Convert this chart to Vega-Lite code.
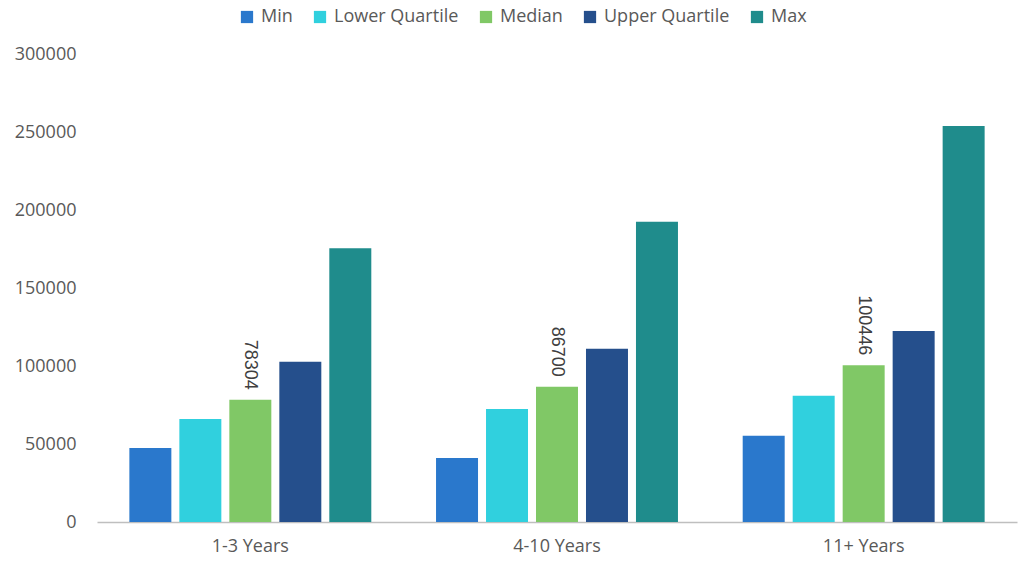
{
  "$schema": "https://vega.github.io/schema/vega-lite/v6.json",
  "width": 920,
  "height": 468,
  "autosize": {"type": "none"},
  "padding": {"left": 97, "top": 54, "right": 5, "bottom": 39},
  "background": "white",
  "config": {
    "view": {"stroke": null},
    "font": "Open Sans",
    "axis": {"labelColor": "#595959", "labelFont": "Open Sans", "title": null}
  },
  "data": {
    "values": [
      {"group": "1-3 Years", "stat": "Min", "value": 47500},
      {"group": "1-3 Years", "stat": "Lower Quartile", "value": 66000},
      {"group": "1-3 Years", "stat": "Median", "value": 78304},
      {"group": "1-3 Years", "stat": "Upper Quartile", "value": 102800},
      {"group": "1-3 Years", "stat": "Max", "value": 175500},
      {"group": "4-10 Years", "stat": "Min", "value": 41000},
      {"group": "4-10 Years", "stat": "Lower Quartile", "value": 72500},
      {"group": "4-10 Years", "stat": "Median", "value": 86700},
      {"group": "4-10 Years", "stat": "Upper Quartile", "value": 111000},
      {"group": "4-10 Years", "stat": "Max", "value": 192500},
      {"group": "11+ Years", "stat": "Min", "value": 55300},
      {"group": "11+ Years", "stat": "Lower Quartile", "value": 81000},
      {"group": "11+ Years", "stat": "Median", "value": 100446},
      {"group": "11+ Years", "stat": "Upper Quartile", "value": 122400},
      {"group": "11+ Years", "stat": "Max", "value": 253800}
    ]
  },
  "encoding": {
    "x": {
      "field": "group",
      "type": "nominal",
      "sort": ["1-3 Years", "4-10 Years", "11+ Years"],
      "scale": {"paddingInner": 0.185, "paddingOuter": 0.0925},
      "axis": {
        "labelAngle": 0,
        "labelFontSize": 18,
        "labelPadding": 15,
        "ticks": false,
        "tickSize": 0,
        "domainColor": "#bfbfbf",
        "domainWidth": 1.5
      }
    },
    "xOffset": {
      "field": "stat",
      "type": "nominal",
      "sort": ["Min", "Lower Quartile", "Median", "Upper Quartile", "Max"],
      "scale": {"paddingInner": 0.16, "paddingOuter": 0.08}
    },
    "y": {
      "field": "value",
      "type": "quantitative",
      "scale": {"domain": [0, 300000], "nice": false},
      "axis": {
        "values": [0, 50000, 100000, 150000, 200000, 250000, 300000],
        "format": "d",
        "grid": false,
        "domain": false,
        "ticks": false,
        "tickSize": 0,
        "labelPadding": 21,
        "labelFontSize": 18
      }
    }
  },
  "layer": [
    {
      "mark": {"type": "bar"},
      "encoding": {
        "color": {
          "field": "stat",
          "type": "nominal",
          "sort": ["Min", "Lower Quartile", "Median", "Upper Quartile", "Max"],
          "scale": {
            "domain": ["Min", "Lower Quartile", "Median", "Upper Quartile", "Max"],
            "range": ["#2a78cc", "#30d0de", "#80c866", "#254f8c", "#1f8c8c"]
          },
          "legend": {
            "title": null,
            "orient": "none",
            "direction": "horizontal",
            "legendX": 141,
            "legendY": -46,
            "symbolType": "square",
            "symbolSize": 150,
            "symbolStrokeWidth": 0,
            "labelFontSize": 18,
            "labelColor": "#595959",
            "labelOffset": 5,
            "columnPadding": 18
          }
        }
      }
    },
    {
      "transform": [{"filter": "datum.stat === 'Median'"}],
      "mark": {
        "type": "text",
        "angle": 90,
        "align": "right",
        "baseline": "middle",
        "dx": -10,
        "font": "Liberation Sans",
        "fontSize": 18,
        "color": "#404040"
      },
      "encoding": {
        "text": {"field": "value", "type": "quantitative", "format": "d"}
      }
    }
  ]
}
